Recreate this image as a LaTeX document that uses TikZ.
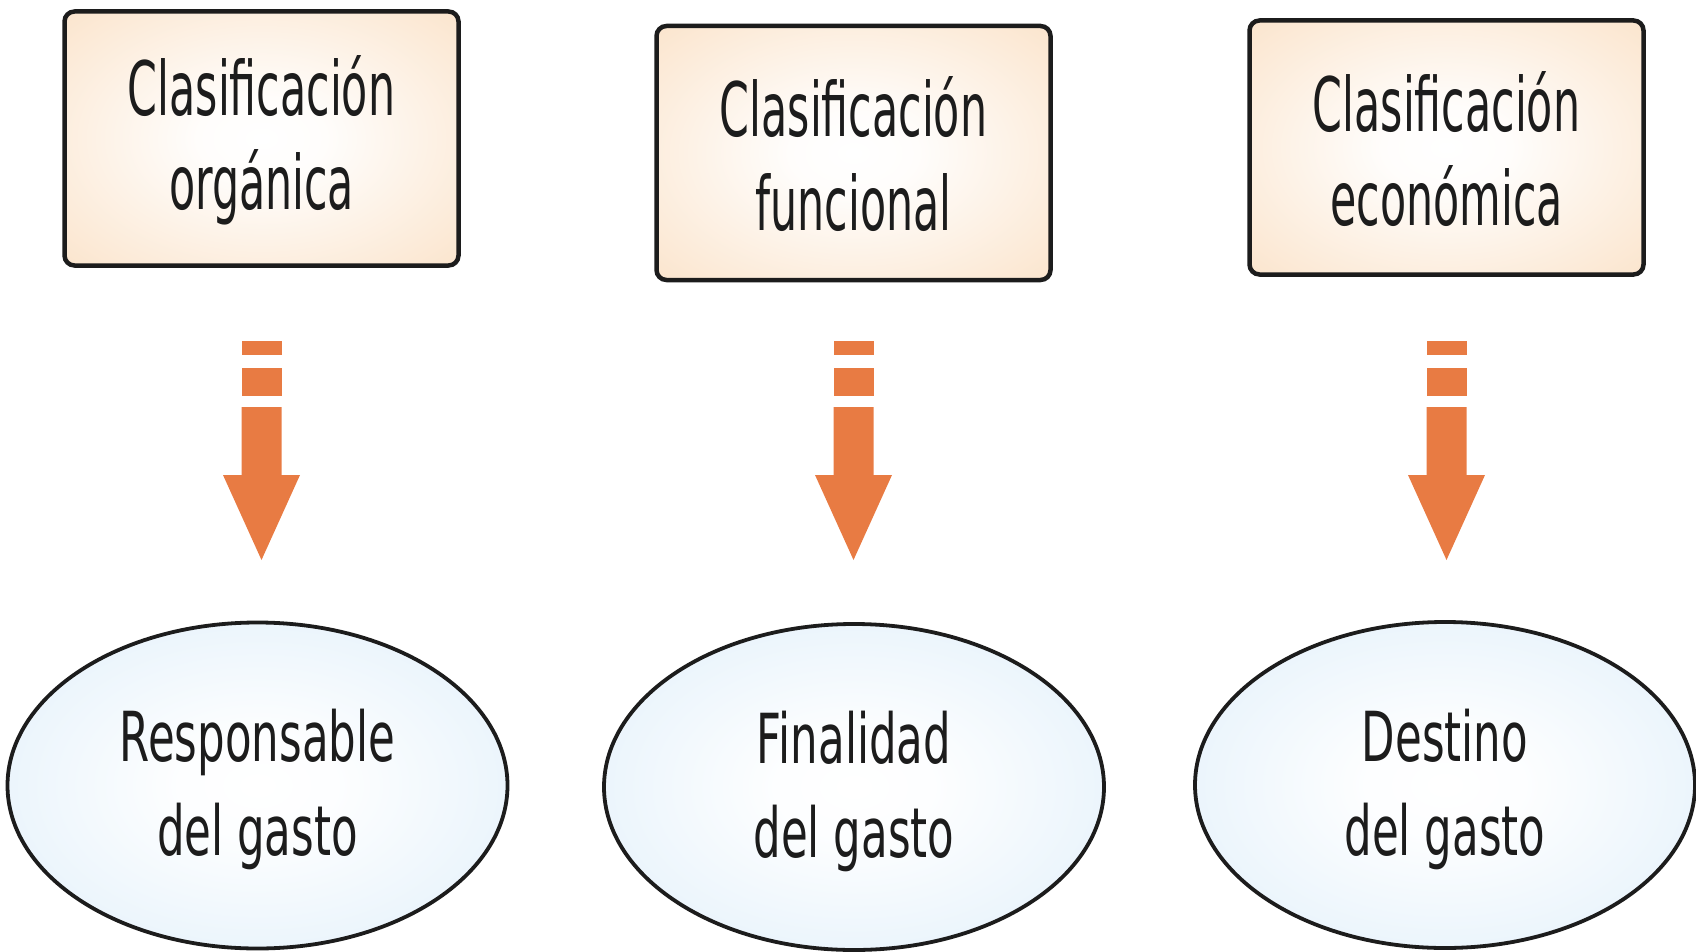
\documentclass[tikz,border=0pt]{standalone}
\usepackage{fontspec}
\setmainfont{DejaVu Sans}[FakeStretch=0.6]
\newfontfamily\boxfamily{DejaVu Sans}[FakeStretch=0.57]
\newfontfamily\ellfamily{DejaVu Sans}[FakeStretch=0.63]
\usetikzlibrary{shapes.geometric}
\definecolor{arrowcol}{HTML}{E87B43}
\definecolor{peach}{HTML}{F9D8B5}
\definecolor{skyedge}{HTML}{D2E8F8}
\definecolor{inkcol}{HTML}{1C1C1C}
\newcommand\ellstrut{\rule{0pt}{61pt}}
\newcommand\boxstrut{\rule{0pt}{63pt}}
\pgfdeclareradialshading{boxshade}{\pgfpoint{0bp}{0bp}}{color(0bp)=(white); color(8bp)=(white!95!peach); color(50bp)=(peach); color(100bp)=(peach)}
\pgfdeclareradialshading{ellshade}{\pgfpoint{0bp}{0bp}}{color(0bp)=(white); color(8bp)=(white!95!skyedge); color(50bp)=(skyedge); color(100bp)=(skyedge)}
\tikzset{
  classbox/.style={rectangle, rounded corners=10pt, draw=inkcol, line width=4.5pt,
    shading=boxshade, minimum width=394pt, minimum height=254pt, align=center,
    text=inkcol, font=\boxfamily\fontsize{75}{94}\selectfont},
  goalell/.style={ellipse, draw=inkcol, line width=3.8pt, shading=ellshade,
    minimum width=500pt, minimum height=326pt, align=center, inner sep=0pt,
    text=inkcol, font=\ellfamily\fontsize{69}{94}\selectfont},
  blockarrow/.pic={
    \fill[arrowcol] (-20,0) rectangle (20,14);
    \fill[arrowcol] (-20,27) rectangle (20,55);
    \fill[arrowcol] (-20,66) -- (20,66) -- (20,134) -- (38.5,134) -- (0,219)
      -- (-38.5,134) -- (-20,134) -- cycle;
  }
}
\begin{document}
\begin{tikzpicture}[x=1pt, y=-1pt]
\useasboundingbox (0,0) rectangle (1696,952);
\node[classbox] (b1) at (261.5,138.5) {\boxstrut Clasificación\\orgánica};
\node[classbox] (b2) at (853.5,153) {\boxstrut Clasificación\\funcional};
\node[classbox] (b3) at (1446.5,147.5) {\boxstrut Clasificación\\económica};
\node[goalell] (e1) at (257.5,785.5) {\ellstrut Responsable\\del gasto};
\node[goalell] (e2) at (854,787) {\ellstrut Finalidad\\del gasto};
\node[goalell] (e3) at (1445,785) {\ellstrut Destino\\del gasto};
\coordinate (arrowtop) at (0,341);
\pic at (b1.south |- arrowtop) {blockarrow};
\pic at (b2.south |- arrowtop) {blockarrow};
\pic at (b3.south |- arrowtop) {blockarrow};
\end{tikzpicture}
\end{document}
